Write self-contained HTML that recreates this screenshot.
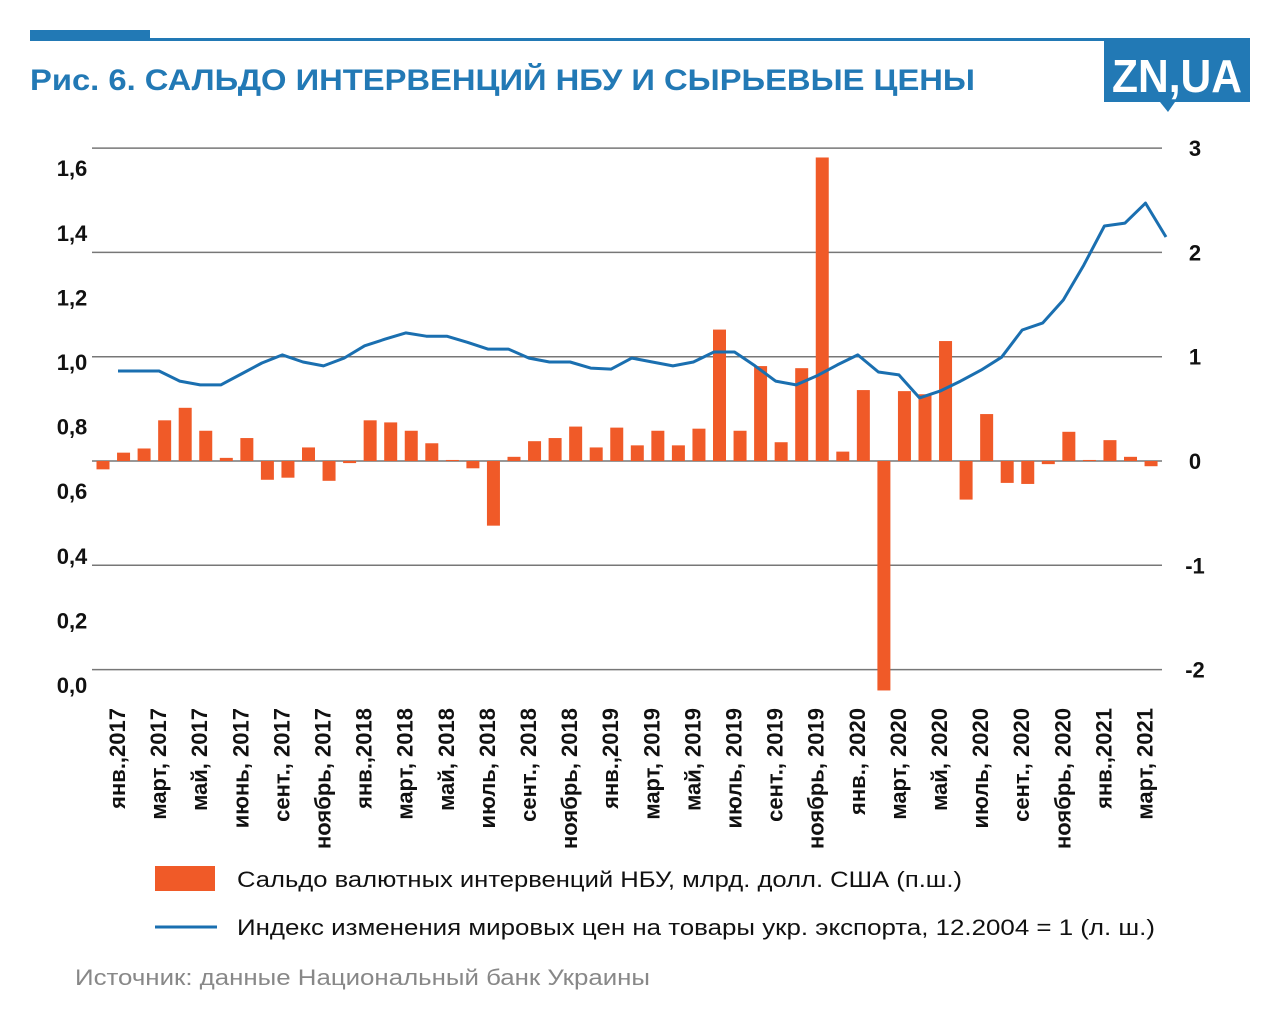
<!DOCTYPE html>
<html><head><meta charset="utf-8"><style>
html,body{margin:0;padding:0;background:#fff;}
svg{display:block;font-family:"Liberation Sans","DejaVu Sans",sans-serif;}
</style></head><body>
<svg id="chart" width="1280" height="1016" viewBox="0 0 1280 1016" xmlns="http://www.w3.org/2000/svg">
<rect x="30" y="30" width="120" height="10" fill="#2279b5"/>
<rect x="30" y="38" width="1220" height="3" fill="#2279b5"/>
<text x="30" y="90" font-size="30" font-weight="bold" fill="#2279b5" textLength="945" lengthAdjust="spacingAndGlyphs">Рис. 6. САЛЬДО ИНТЕРВЕНЦИЙ НБУ И СЫРЬЕВЫЕ ЦЕНЫ</text>
<g>
<rect x="1104" y="40" width="146" height="62" fill="#2279b5"/>
<polygon points="1160,102 1175,102 1168,112" fill="#2279b5"/>
<text x="1177" y="92" font-size="46" font-weight="bold" fill="#fff" text-anchor="middle" textLength="130" lengthAdjust="spacingAndGlyphs">ZN,UA</text>
</g>
<g id="grid"></g>
<g id="bars"></g>
<g id="line"></g>
<g id="labels"></g>
<g>
<rect x="155" y="866" width="60" height="25" fill="#f05a28"/>
<text x="237" y="887" font-size="22" fill="#111" textLength="725" lengthAdjust="spacingAndGlyphs">Сальдо валютных интервенций НБУ, млрд. долл. США (п.ш.)</text>
<line x1="155" y1="927" x2="217" y2="927" stroke="#1a6fb0" stroke-width="3"/>
<text x="237" y="935" font-size="22" fill="#111" textLength="918" lengthAdjust="spacingAndGlyphs">Индекс изменения мировых цен на товары укр. экспорта, 12.2004 = 1 (л. ш.)</text>
</g>
<text x="75" y="985" font-size="22" fill="#888" textLength="575" lengthAdjust="spacingAndGlyphs">Источник: данные Национальный банк Украины</text>
</svg>
<script>
const months = 52;
const barValues = [-0.08,0.08,0.12,0.39,0.51,0.29,0.03,0.22,-0.18,-0.16,0.13,-0.19,
 -0.02,0.39,0.37,0.29,0.17,0.01,-0.07,-0.62,0.04,0.19,0.22,0.33,
 0.13,0.32,0.15,0.29,0.15,0.31,1.26,0.29,0.91,0.18,0.89,2.91,
 0.09,0.68,-2.2,0.67,0.64,1.15,-0.37,0.45,-0.21,-0.22,-0.03,0.28,
 0.01,0.2,0.04,-0.05];
const lineValues = [0.972,0.972,0.972,0.941,0.929,0.929,0.963,0.997,1.022,1.0,0.988,1.012,
 1.05,1.071,1.09,1.08,1.08,1.061,1.04,1.04,1.012,1.0,1.0,0.981,
 0.978,1.012,1.0,0.988,1.0,1.031,1.031,0.988,0.941,0.929,0.957,0.991,
 1.022,0.969,0.96,0.889,0.91,0.941,0.975,1.015,1.099,1.121,1.192,1.3,
 1.421,1.43,1.492,1.387];
const leftTicks = ["0,0","0,2","0,4","0,6","0,8","1,0","1,2","1,4","1,6"];
const leftTickValues = [0,0.2,0.4,0.6,0.8,1.0,1.2,1.4,1.6];
const rightTicks = ["-2","-1","0","1","2","3"];
const rightTickValues = [-2,-1,0,1,2,3];
const xLabels = ["янв.,2017","март, 2017","май, 2017","июнь, 2017","сент., 2017","ноябрь, 2017",
 "янв.,2018","март, 2018","май, 2018","июль, 2018","сент., 2018","ноябрь, 2018",
 "янв.,2019","март, 2019","май, 2019","июль, 2019","сент., 2019","ноябрь, 2019",
 "янв., 2020","март, 2020","май, 2020","июль, 2020","сент., 2020","ноябрь, 2020",
 "янв.,2021","март, 2021"];

const NS="http://www.w3.org/2000/svg";
const step=20.55;
function xBar(i){return 103+i*step;}
function xLine(i){return 118+i*step;}
function yRight(v){return 461-v*104.3;}
function yLeft(v){return 685-v*323;}
function mk(tag,attrs,parent){const e=document.createElementNS(NS,tag);for(const k in attrs)e.setAttribute(k,attrs[k]);parent.appendChild(e);return e;}

const grid=document.getElementById('grid');
rightTickValues.forEach((v,i)=>{
  const l=mk('line',{x1:92,x2:1162,y1:yRight(v),y2:yRight(v),stroke:'#777','stroke-width':1.5},grid);
  
  
  const t=mk('text',{x:1195,y:yRight(v)+8,'font-size':22,'font-weight':'bold','text-anchor':'middle',fill:'#111'},grid);
  t.textContent=rightTicks[i];
  
  
});
leftTickValues.forEach((v,i)=>{
  const t=mk('text',{x:72,y:yLeft(v)+8,'font-size':22,'font-weight':'bold','text-anchor':'middle',fill:'#111'},grid);
  t.textContent=leftTicks[i];
  
  
});

const bars=document.getElementById('bars');
barValues.forEach((v,i)=>{
  const y0=yRight(0),y1=yRight(v);
  const r=mk('rect',{x:xBar(i)-6.5,y:Math.min(y0,y1),width:13,height:Math.abs(y1-y0),fill:'#f05a28'},bars);
  
  
});

const pts=lineValues.map((v,i)=>xLine(i).toFixed(1)+','+yLeft(v).toFixed(1)).join(' ');
const pl=mk('polyline',{points:pts,fill:'none',stroke:'#1a6fb0','stroke-width':3,'stroke-linejoin':'round'},document.getElementById('line'));



const labels=document.getElementById('labels');
xLabels.forEach((s,k)=>{
  const x=117+k*41.1+8;
  const t=mk('text',{x:x,y:708,'font-size':22,'font-weight':'bold','text-anchor':'end',fill:'#111',transform:'rotate(-90 '+x+' 708)'},labels);
  t.textContent=s;
  
  
});
</script>
</body></html>
